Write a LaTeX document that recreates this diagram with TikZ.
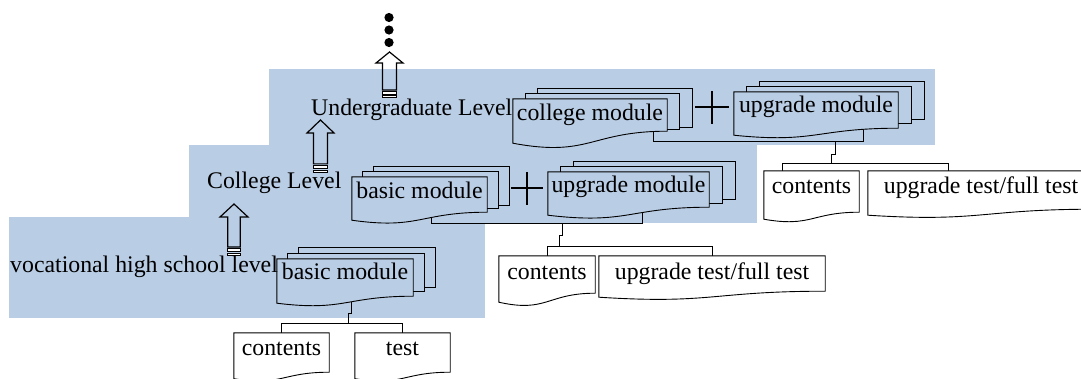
\documentclass[tikz,border=0pt]{standalone}
\usepackage{fontspec}
\setmainfont{Liberation Serif}
\usetikzlibrary{calc}
\pgfdeclarelayer{bgl}\pgfdeclarelayer{connl}\pgfdeclarelayer{backl}\pgfdeclarelayer{docl}
\pgfsetlayers{bgl,connl,backl,docl,main}
\definecolor{bgblue}{HTML}{B9CDE5}
\tikzset{
 lbl/.style={font=\fontsize{23.8}{26}\selectfont, inner sep=0pt, anchor=base west},
 doctext/.style={font=\fontsize{23.8}{26}\selectfont, inner xsep=0pt, inner ysep=0pt, anchor=base},
 docline/.style={draw=black, line width=0.9pt, line join=miter},
 conn/.style={draw=black, line width=0.9pt},
 blockarrow/.style={draw=black, line width=1.2pt, line join=miter},
 stripe/.style={draw=black, line width=1pt, fill=white},
 plussign/.style={draw=black, line width=2.8pt},
}
% document shape: name, x1, x2, top, right-bottom, baseline, wave drop, text, fill
\newcommand\mkdoc[9]{%
 \pgfmathsetmacro\dth{#6-#4}%
 \pgfmathsetmacro\dtd{#5-#6}%
 \pgfmathsetmacro\dw{#3-#2}%
 \pgfmathsetmacro\dcx{(#2+#3)/2}%
 \node[doctext, text height=\dth pt, text depth=\dtd pt, minimum width=\dw pt] (#1) at (\dcx,#6) {#8};
 \begin{pgfonlayer}{docl}
 \path[docline, fill=#9] (#1.north west) -- (#1.north east) -- (#1.south east)
   .. controls (#1.south) and ($(#1.south)+(0,2.2*#7)$) .. ($(#1.south west)+(0,#7)$) -- cycle;
 \end{pgfonlayer}}
% back pages of a multidocument: name, dx, dy, bottom step
\newcommand\backpages[4]{%
 \begin{pgfonlayer}{backl}
 \path[docline, fill=bgblue] ($(#1.north west)+(2*#2,-2*#3)$) rectangle ($(#1.south east)+(2*#2,-2*#4)$);
 \path[docline, fill=bgblue] ($(#1.north west)+(#2,-#3)$) rectangle ($(#1.south east)+(#2,-#4)$);
 \end{pgfonlayer}}
% striped up arrow: cx, tip, head base, bottom, half head, half shaft
\newcommand\stripearrow[6]{%
 \pgfmathsetmacro\arL{#4-#2}%
 \pgfmathsetmacro\arB{#4-5*\arL/32}%
 \pgfmathsetmacro\arS{#4-\arL/8}%
 \pgfmathsetmacro\arT{#4-\arL/16}%
 \pgfmathsetmacro\arU{#4-\arL/32}%
 \draw[blockarrow] ({#1-#6},\arB) -- ({#1-#6},#3) -- ({#1-#5},#3) -- (#1,#2) -- ({#1+#5},#3) -- ({#1+#6},#3) -- ({#1+#6},\arB) -- cycle;
 \draw[stripe] ({#1-#6},\arS) rectangle ({#1+#6},\arT);
 \draw[stripe] ({#1-#6},\arU) rectangle ({#1+#6},#4);
}
\begin{document}
\begin{tikzpicture}[x=1pt,y=-1pt]
\useasboundingbox (0,0) rectangle (1081,378);
\begin{pgfonlayer}{bgl}
 \fill[bgblue] (9,217) rectangle (485,318);
 \fill[bgblue] (189,145) rectangle (757,223);
 \fill[bgblue] (269,69) rectangle (935,145);
\end{pgfonlayer}

% level labels
\node[lbl] (lV) at (10,272) {vocational high school level};
\node[lbl] (lC) at (207,188) {College Level};
\node[lbl] (lU) at (311,115) {Undergraduate Level};

% module stacks
\mkdoc{bmV}{277}{413}{259}{296}{279}{7}{basic module}{bgblue}
\backpages{bmV}{11}{5.5}{4.5}
\mkdoc{bmC}{352}{487}{177}{212}{198}{8}{basic module}{bgblue}
\backpages{bmC}{11}{5}{3.5}
\mkdoc{umC}{548}{709}{172}{207}{192}{8}{upgrade module}{bgblue}
\backpages{umC}{13}{5}{4}
\mkdoc{cmU}{513}{667}{99}{131}{120}{12}{college module}{bgblue}
\backpages{cmU}{12.5}{5}{2}
\mkdoc{umU}{734}{898}{92}{128}{112}{7}{upgrade module}{bgblue}
\backpages{umU}{13}{5}{4.5}

% children
\mkdoc{cV}{234}{329}{333}{372}{355}{6.5}{contents}{white}
\mkdoc{tV}{355}{450}{333}{372}{355}{6.5}{test}{white}
\mkdoc{cC}{499}{595}{256}{293}{279}{9}{contents}{white}
\mkdoc{tC}{599}{825}{256}{291}{279}{6}{upgrade test/full test}{white}
\mkdoc{cU}{764}{859}{171}{212}{193}{7}{contents}{white}
\mkdoc{tU}{868}{1094}{171}{209}{193}{6}{upgrade test/full test}{white}

% connectors
\coordinate (jA1) at (653,141);
\coordinate (jA2) at (863,141);
\coordinate (sU) at (835,141);
\coordinate (bU1) at (782,163);
\coordinate (bU2) at (948,163);
\coordinate (jB1) at (431,223);
\coordinate (jB2) at (642,223);
\coordinate (sC) at (562,223);
\coordinate (bC) at (630,246);
\coordinate (sV) at (351,313);
\coordinate (bV) at (340,323);
\begin{pgfonlayer}{connl}
 \draw[conn] (cmU.south -| jA1) -- (jA1) -- (jA2) -- (umU.south -| jA2);
 \draw[conn] (sU) -- ++(0,13) -- ++(-4,0) |- (bU1);
 \draw[conn] (bU1) -- (bU2);
 \draw[conn] (bU1) -- (bU1 |- cU.north);
 \draw[conn] (bU2) -- (bU2 |- tU.north);
 \draw[conn] (bmC.south -| jB1) -- (jB1) -- (jB2) -- (umC.south -| jB2);
 \draw[conn] (sC) -- ++(0,12) -- ++(-3,0) |- (bC);
 \draw[conn] (cC.north |- bC) -- (tC.north |- bC);
 \draw[conn] (cC.north |- bC) -- (cC.north);
 \draw[conn] (tC.north |- bC) -- (tC.north);
 \draw[conn] (bmV.south -| sV) -- (sV) -- ++(-3,0) |- (bV);
 \draw[conn] (cV.north |- bV) -- (tV.north |- bV);
 \draw[conn] (cV.north |- bV) -- (cV.north);
 \draw[conn] (tV.north |- bV) -- (tV.north);
\end{pgfonlayer}

% plus signs
\draw[plussign] (511,188) -- (543,188) (527,172) -- (527,205);
\draw[plussign] (695,107) -- (729,107) (712,91) -- (712,124);

% arrows and dots
\stripearrow{234}{204}{217}{255}{14}{6.3}
\stripearrow{320.5}{120}{133}{172}{13.5}{7}
\stripearrow{389.5}{52}{63}{97}{13.5}{7}
\fill (389,17.5) circle[radius=4.6pt];
\fill (389,30) circle[radius=4.6pt];
\fill (389,42.5) circle[radius=4.6pt];
\end{tikzpicture}
\end{document}
